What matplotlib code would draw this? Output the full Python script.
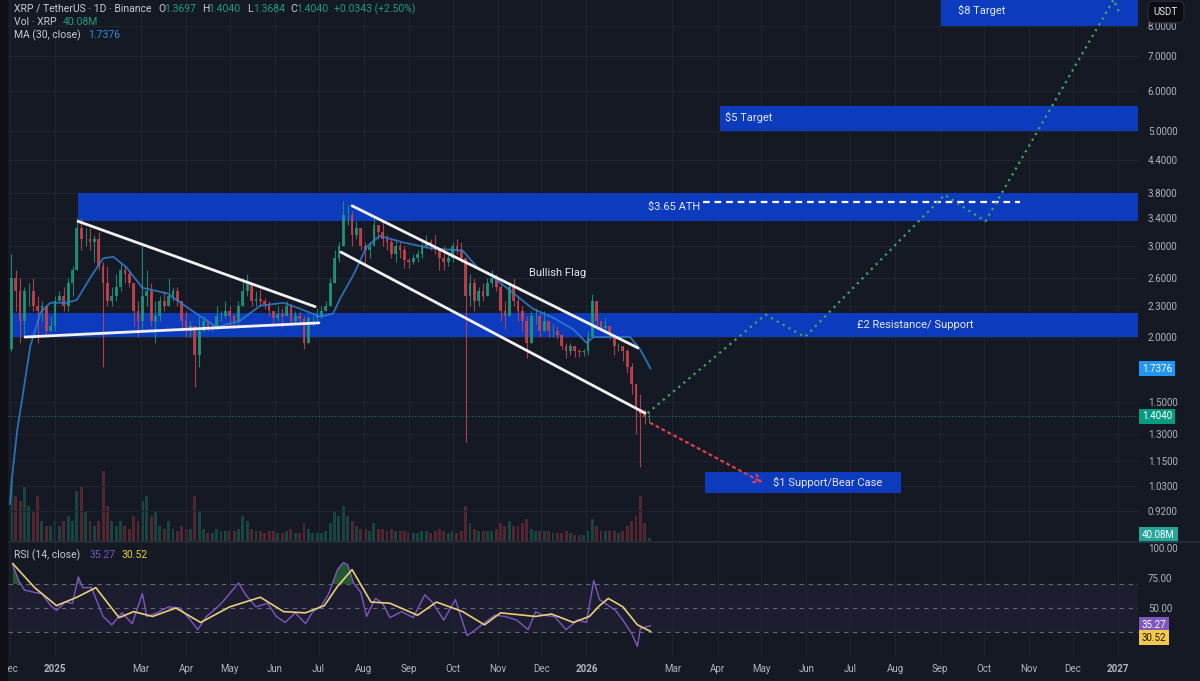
import numpy as np
import matplotlib
matplotlib.use('Agg')
from matplotlib import pyplot as plt
from matplotlib.ticker import FixedLocator, NullLocator
from matplotlib.transforms import blended_transform_factory
from matplotlib.patches import Rectangle
from matplotlib.lines import Line2D

plt.rcParams['font.family'] = ['Roboto', 'DejaVu Sans']

# x values: days counted from 2025-01-01
# 3-day candles, the first one starts 2024-12-01
candle_start = -31
candle_step = 3
open0 = 1.90
close = [2.60, 2.45, 2.15, 2.45, 2.45, 2.30, 2.25, 2.30, 2.05, 2.10,
         2.35, 2.40, 2.30, 2.55, 2.70, 3.25, 3.10, 3.10, 3.05, 3.10,
         2.75, 2.55, 2.35, 2.40, 2.50, 2.70, 2.65, 2.55, 2.25, 2.15,
         2.40, 2.45, 2.15, 2.20, 2.35, 2.30, 2.40, 2.45, 2.35, 2.15,
         2.05, 2.10, 1.85, 2.05, 2.15, 2.07, 2.08, 2.20, 2.20, 2.25,
         2.20, 2.15, 2.30, 2.45, 2.55, 2.35, 2.37, 2.35, 2.32, 2.25,
         2.18, 2.22, 2.20, 2.30, 2.15, 2.20, 2.17, 1.95, 2.18, 2.18,
         2.20, 2.25, 2.30, 2.55, 2.85, 3.00, 3.45, 3.45, 3.15, 3.25,
         3.00, 2.95, 3.00, 3.30, 3.20, 3.10, 3.05, 2.90, 3.00, 2.95,
         2.82, 2.80, 2.85, 2.90, 3.00, 3.05, 3.00, 2.95, 2.85, 2.80,
         2.85, 3.00, 2.95, 2.85, 2.40, 2.55, 2.35, 2.45, 2.40, 2.55,
         2.60, 2.50, 2.25, 2.20, 2.50, 2.35, 2.25, 2.15, 1.95, 2.20,
         2.20, 2.05, 2.15, 2.05, 2.05, 2.02, 1.92, 1.88, 1.92, 1.88,
         1.87, 1.88, 2.00, 2.35, 2.15, 2.08, 2.10, 2.02, 1.92, 1.92,
         1.88, 1.75, 1.62, 1.45, 1.42, 1.40, 1.404]
high = [2.90, 2.70, 2.60, 2.50, 2.55, 2.60, 2.40, 2.35, 2.30, 2.20,
        2.40, 2.45, 2.50, 2.60, 2.75, 3.40, 3.40, 3.25, 3.25, 3.15,
        3.20, 2.80, 2.75, 2.50, 2.65, 2.80, 2.75, 2.70, 2.55, 2.35,
        3.00, 2.70, 2.55, 2.35, 2.40, 2.45, 2.60, 2.50, 2.50, 2.35,
        2.25, 2.15, 2.10, 2.20, 2.20, 2.15, 2.12, 2.30, 2.25, 2.35,
        2.30, 2.22, 2.35, 2.60, 2.65, 2.50, 2.45, 2.48, 2.38, 2.35,
        2.25, 2.30, 2.28, 2.35, 2.32, 2.25, 2.25, 2.20, 2.20, 2.20,
        2.28, 2.30, 2.35, 2.60, 2.95, 3.05, 3.66, 3.60, 3.50, 3.35,
        3.25, 3.05, 3.05, 3.40, 3.30, 3.35, 3.15, 3.10, 3.10, 3.05,
        3.00, 2.85, 2.90, 2.95, 3.05, 3.15, 3.10, 3.15, 2.95, 3.00,
        2.90, 3.05, 3.10, 3.05, 2.85, 2.65, 2.60, 2.50, 2.55, 2.60,
        2.70, 2.65, 2.55, 2.35, 2.55, 2.60, 2.40, 2.30, 2.20, 2.25,
        2.28, 2.22, 2.25, 2.15, 2.12, 2.10, 2.03, 1.95, 1.95, 1.92,
        1.90, 1.90, 2.05, 2.42, 2.35, 2.15, 2.18, 2.10, 2.00, 1.95,
        1.92, 1.90, 1.78, 1.62, 1.55, 1.45, 1.43]
low = [1.88, 2.25, 1.95, 2.00, 2.30, 2.25, 1.95, 2.15, 2.00, 2.05,
       2.05, 2.35, 2.25, 2.25, 2.40, 2.70, 2.95, 3.00, 2.95, 2.80,
       2.70, 1.75, 2.30, 2.30, 2.35, 2.45, 2.55, 2.50, 2.10, 2.00,
       2.05, 2.30, 2.10, 1.95, 2.15, 2.25, 2.30, 2.35, 2.30, 2.05,
       2.00, 2.00, 1.60, 1.75, 2.05, 2.05, 2.05, 2.07, 2.15, 2.18,
       2.10, 2.08, 2.08, 2.30, 2.40, 2.30, 2.30, 2.30, 2.27, 2.20,
       2.10, 2.15, 2.08, 2.20, 2.10, 2.13, 2.12, 1.90, 1.95, 2.10,
       2.15, 2.18, 2.25, 2.30, 2.55, 2.80, 3.00, 3.30, 3.00, 3.10,
       2.95, 2.75, 2.85, 3.00, 3.10, 3.00, 2.95, 2.85, 2.80, 2.85,
       2.72, 2.72, 2.77, 2.80, 2.85, 2.98, 2.95, 2.90, 2.70, 2.70,
       2.75, 2.80, 2.90, 2.80, 1.25, 2.30, 2.25, 2.30, 2.35, 2.40,
       2.50, 2.45, 2.15, 2.07, 2.20, 2.30, 2.15, 2.05, 1.82, 1.95,
       2.12, 2.00, 2.05, 2.00, 2.00, 1.98, 1.90, 1.82, 1.85, 1.83,
       1.83, 1.84, 1.85, 2.00, 2.10, 2.05, 2.05, 1.98, 1.85, 1.88,
       1.80, 1.70, 1.55, 1.30, 1.12, 1.36, 1.37]
volume_m = [900, 675, 600, 825, 525, 450, 675, 300, 225, 225, 300,
            225, 300, 375, 300, 750, 825, 450, 300, 225, 300,
            1050, 525, 300, 225, 300, 225, 180, 375, 300,
            600, 675, 375, 450, 225, 180, 300, 180, 150, 225, 180,
            180, 675, 450, 180, 120, 120, 180, 150, 150, 150,
            150, 180, 375, 300, 180, 150, 150, 120, 150, 150,
            120, 120, 150, 180, 120, 120, 270, 180, 120, 120,
            120, 150, 270, 450, 375, 525, 375, 300, 225, 180,
            180, 150, 270, 180, 180, 150, 180, 150, 150, 150,
            120, 120, 120, 150, 150, 120, 150, 180, 150, 120, 150,
            120, 150, 525, 270, 180, 150, 150, 150, 150, 180,
            270, 225, 300, 225, 225, 270, 330, 180, 150, 150,
            150, 150, 120, 120, 120, 150, 120, 90, 90, 90,
            150, 330, 225, 150, 150, 150, 150, 120, 150, 225,
            300, 375, 675, 270, 40.08]

ma_day = [-31, -29.5, -26, -22.7, -17, -10, -3.4, 8, 15, 24,
          33, 40, 49, 60, 77, 91, 111, 127, 141, 157,
          168, 182, 191, 196, 205, 214, 223, 239, 258, 280,
          290, 301, 315, 328, 342, 356, 365, 370, 381, 395,
          402, 409]
ma_val = [0.95, 1.07, 1.32, 1.51, 1.92, 2.23, 2.33, 2.33, 2.36, 2.60,
          2.84, 2.86, 2.73, 2.49, 2.43, 2.28, 2.09, 2.15, 2.30, 2.33,
          2.27, 2.19, 2.22, 2.38, 2.64, 2.99, 3.14, 3.05, 2.97, 2.94,
          2.73, 2.61, 2.43, 2.27, 2.18, 2.07, 1.95, 2.00, 2.00, 2.00,
          1.89, 1.7376]

rsi_day = [-29, -25, -21, -14, -9, -3, 1, 7, 12, 16,
           19, 25, 33, 39, 46, 53, 60, 63, 70, 78,
           86, 93, 98, 104, 109, 115, 122, 126, 131, 138,
           146, 152, 158, 165, 172, 177, 183, 188, 194, 198,
           201, 205, 210, 214, 220, 225, 230, 238, 246, 254,
           259, 267, 275, 283, 289, 293, 302, 309, 317, 325,
           330, 335, 343, 351, 359, 365, 370, 374, 385, 390,
           396, 400, 402, 409]
rsi_val = [86, 73, 65, 63, 62, 52, 48, 55, 54, 76,
           67, 67, 43, 36, 46, 37, 62, 43, 46, 51,
           50, 40, 32, 43, 48, 55, 65, 71, 61, 51,
           54, 43, 38, 46, 37, 47, 52, 62, 82, 88,
           86, 71, 63, 43, 58, 54, 42, 47, 42, 61,
           55, 40, 57, 27, 32, 36, 44, 43, 40, 32,
           47, 44, 43, 32, 40, 38, 73, 57, 48, 40,
           29, 18, 33, 35.27]
rsi_ma_day = [-29, -14, 1, 15, 28, 44, 54, 67, 83, 100, 120, 141, 157, 172, 185, 194, 204,
              217, 230, 249, 262, 280, 295, 306, 330, 341, 356, 367, 374, 380, 390, 400, 409]
rsi_ma_val = [87, 67, 52, 59, 67, 42, 47, 43, 50, 38, 51, 59, 47, 46, 52, 68, 82,
              55, 54, 44, 55, 47, 36, 46, 43, 45, 38, 43, 52, 58, 51, 36, 30.52]

# price zones: label, start day, end day (None = right edge), low, high
zones = [('$8 Target', 608.5, None, 8.0, 10.0),
         ('$5 Target', 456.7, None, 5.0, 5.6),
         ('$3.65 ATH', 15.8, None, 3.35, 3.80),
         ('£2 Resistance/ Support', -29.5, None, 2.0, 2.23),
         ('$1 Support/Bear Case', 446.4, 581, 1.0, 1.095)]

# drawn trend lines (day, price) pairs
trend_lines = [([15.8, 178.6], [3.35, 2.29]),
               ([-20.6, 181.3], [2.0, 2.13]),
               ([204, 400.4], [3.59, 1.905]),
               ([196.4, 405.2], [2.92, 1.425])]
ath_day = [445, 663]
ath_price = 3.65
bull_day = [407, 488, 515, 611, 639, 727, 731]
bull_price = [1.425, 2.21, 2.0, 3.77, 3.35, 9.0, 8.48]
bear_day = [409, 486]
bear_price = [1.363, 1.045]

price_ticks = [8.0, 7.0, 6.0, 5.0, 4.4, 3.8, 3.4, 3.0, 2.6, 2.3, 2.0, 1.5, 1.3, 1.15, 1.03, 0.92]
tick_day = [-31, 0, 59, 90, 120, 151, 181, 212, 243, 273, 304, 334, 365,
            424, 455, 485, 516, 546, 577, 608, 638, 669, 699, 730]
tick_lab = ['Dec', '2025', 'Mar', 'Apr', 'May', 'Jun', 'Jul', 'Aug', 'Sep', 'Oct', 'Nov', 'Dec', '2026',
            'Mar', 'Apr', 'May', 'Jun', 'Jul', 'Aug', 'Sep', 'Oct', 'Nov', 'Dec', '2027']

last_price = 1.404
last_ma = 1.7376

# ---- layout ----
W, H = 1200, 681
bg = '#151924'
grid_c = '#1f2332'
txt_c = '#b2b5be'
up_c = '#22987a'
dn_c = '#c9444f'
zone_c = '#0c3bbd'


def fx(px):
    return px / W


def fy(py):
    return 1 - py / H


fig = plt.figure(figsize=(12, 6.81), dpi=100, facecolor=bg)
rect_main = [fx(8), fy(541), 1130 / W, 541 / H]
axv = fig.add_axes(rect_main, zorder=0)
ax = fig.add_axes(rect_main, sharex=axv, zorder=1)
axr = fig.add_axes([fx(8), fy(657), 1130 / W, 114 / H], sharex=axv, zorder=1)

x_left, x_right = -32.3, 743.8
axv.set_facecolor(bg)
ax.set_facecolor('none')
axr.set_facecolor(bg)
for a in (ax, axv, axr):
    for s in a.spines.values():
        s.set_visible(False)

# candles
x = candle_start + 1 + candle_step * np.arange(len(close))
c = np.array(close)
o = np.array([open0] + close[:-1])
col = np.where(c >= o, up_c, dn_c)
ax.vlines(x, low, high, colors=col, lw=0.8, zorder=3, alpha=0.85)
ax.bar(x, np.abs(c - o), bottom=np.minimum(o, c), width=1.9, color=col, lw=0, zorder=3, alpha=0.85)

# volume underneath
axv.bar(x, volume_m, width=2.0, color=col, lw=0, alpha=0.35)
axv.set_ylim(0, 8115)
axv.set_yticks([])
axv.tick_params(axis='x', length=0, labelbottom=False)

# MA 30
ax.plot(ma_day, ma_val, color='#2f7fd1', lw=1.3, alpha=0.85, zorder=4)

# zones + labels
for lab, d0, d1, lo, hi in zones:
    ax.fill_between([d0, x_right if d1 is None else d1], lo, hi, color=zone_c, lw=0, zorder=2)

ann = dict(fontsize=8, color='#e6e8ee', zorder=7, va='center')
ax.text(620, 8.59, '$8 Target', ha='left', **ann)
ax.text(460, 5.33, '$5 Target', ha='left', **ann)
ax.text(443, 3.58, '$3.65 ATH', ha='right', **ann)
ax.text(551, 2.11, '£2 Resistance/ Support', ha='left', **ann)
ax.text(493, 1.048, '$1 Support/Bear Case', ha='left', **ann)
ax.text(345, 2.66, 'Bullish Flag', ha='center', **ann)

for xs, ys in trend_lines:
    ax.plot(xs, ys, color='#f0f0f0', lw=2, solid_capstyle='round', zorder=5)
ax.plot(ath_day, [ath_price, ath_price], color='white', lw=1.6, ls=(0, (3, 2.2)), zorder=5)
ax.plot(bull_day, bull_price, color='#45a85c', lw=1.6, ls=(0, (1, 2)), zorder=5, clip_on=True)
ax.annotate('', xy=(bear_day[1], bear_price[1]), xytext=(bear_day[0], bear_price[0]),
            arrowprops=dict(arrowstyle='->,head_length=0.5,head_width=0.3', color='#e0414f',
                            lw=1.6, linestyle=(0, (1, 2)), shrinkA=0, shrinkB=0), zorder=5)

ax.axhline(last_price, color='#1f9c7d', lw=0.8, ls=(0, (1, 2)), alpha=0.8, zorder=2.5)

ax.set_yscale('log')
ax.set_ylim(0.8056, 8.985)
ax.set_xlim(x_left, x_right)
ax.yaxis.tick_right()
ax.yaxis.set_major_locator(FixedLocator(price_ticks))
ax.yaxis.set_minor_locator(NullLocator())
ax.set_yticklabels([f'{p:.4f}' for p in price_ticks])
ax.tick_params(axis='y', length=0, pad=7, labelsize=7, labelcolor=txt_c)
ax.tick_params(axis='x', length=0, labelbottom=False)

# RSI pane
axr.axhspan(30, 70, color='#7e57c2', alpha=0.08, lw=0)
for lvl in (70, 50, 30):
    axr.axhline(lvl, color='#787b86', lw=0.8, ls=(0, (4, 4)), alpha=0.8)
rv = np.array(rsi_val)
axr.fill_between(rsi_day, rv, 70, where=rv >= 70, interpolate=True, color='#2e8b3a', alpha=0.55, lw=0)
axr.plot(rsi_day, rsi_val, color='#7e57c2', lw=1.0)
axr.plot(rsi_ma_day, rsi_ma_val, color='#e8cf7a', lw=1.2)
axr.set_ylim(9.2, 104.2)
axr.yaxis.tick_right()
axr.set_yticks([100, 75, 50])
axr.set_yticklabels(['100.00', '75.00', '50.00'])
axr.tick_params(axis='y', length=0, pad=7, labelsize=7, labelcolor=txt_c)
axr.set_xticks(tick_day)
labs = axr.set_xticklabels(tick_lab)
for t in labs:
    if t.get_text().isdigit():
        t.set_fontweight('bold')
        t.set_color('#d1d4dc')
axr.tick_params(axis='x', length=0, pad=5, labelsize=7, labelcolor=txt_c)
axr.set_xlim(x_left, x_right)

for a in (ax, axr):
    a.grid(True, color=grid_c, lw=0.8, zorder=0)
axr.grid(False, axis='y')

# right-scale value tags
def tag(axis, y, text, fc, tc='white', trans=None):
    tr = trans or blended_transform_factory(axis.transAxes, axis.transData)
    axis.text(1 + 4 / 1130, y, text, transform=tr, ha='left', va='center', fontsize=7, color=tc,
              bbox=dict(boxstyle='square,pad=0.28', fc=fc, ec='none'), clip_on=False, zorder=10)


tag(ax, last_ma, f'{last_ma:.4f}', '#2196f3')
tag(ax, last_price, f'{last_price:.4f}', '#089981')
tag(ax, 6 / 541, f'{volume_m[-1]:.2f}M', '#26a69a', trans=ax.transAxes)
tag(axr, rsi_val[-1] + 0.5, f'{rsi_val[-1]:.2f}', '#7e57c2')
tag(axr, rsi_val[-1] - 10, f'{rsi_ma_val[-1]:.2f}', '#f2c94c', tc='#1a1a1a')

fig.text(fx(1166), fy(12), 'USDT', ha='center', va='center', fontsize=7, color='#e6e8ee', zorder=20,
         bbox=dict(boxstyle='round,pad=0.6', fc='#0b0d12', ec='#2a2e39', lw=0.8))

# header legend
hdr = dict(fontsize=7.5, va='center')
gray = '#c8cbd3'
teal = '#1f9c7d'
fig.text(fx(14), fy(9), 'XRP / TetherUS · 1D · Binance', color=gray, **hdr)
for px, s, cc in [(158, 'O', gray), (164, '1.3697', teal), (202, 'H', gray), (208, '1.4040', teal),
                  (247, 'L', gray), (253, '1.3684', teal), (290, 'C', gray), (296, '1.4040', teal),
                  (334, '+0.0343 (+2.50%)', teal)]:
    fig.text(fx(px), fy(9), s, color=cc, **hdr)
fig.text(fx(14), fy(22), 'Vol · XRP', color=gray, **hdr)
fig.text(fx(63), fy(22), '40.08M', color=teal, **hdr)
fig.text(fx(14), fy(35), 'MA (30, close)', color=gray, **hdr)
fig.text(fx(88), fy(35), '1.7376', color='#2f8fe0', **hdr)
fig.text(fx(14), fy(555), 'RSI (14, close)', color=gray, **hdr)
fig.text(fx(89), fy(555), '35.27', color='#7e57c2', **hdr)
fig.text(fx(122), fy(555), '30.52', color='#e8cf3a', **hdr)

fig.add_artist(Line2D([0, 1], [fy(542), fy(542)], color='#2a2e39', lw=1.2))
fig.add_artist(Rectangle((0, 0), fx(8), 1, transform=fig.transFigure, fc='#0d0f15', ec='none', zorder=30))

fig.savefig('out.png', dpi=100, facecolor=bg)
